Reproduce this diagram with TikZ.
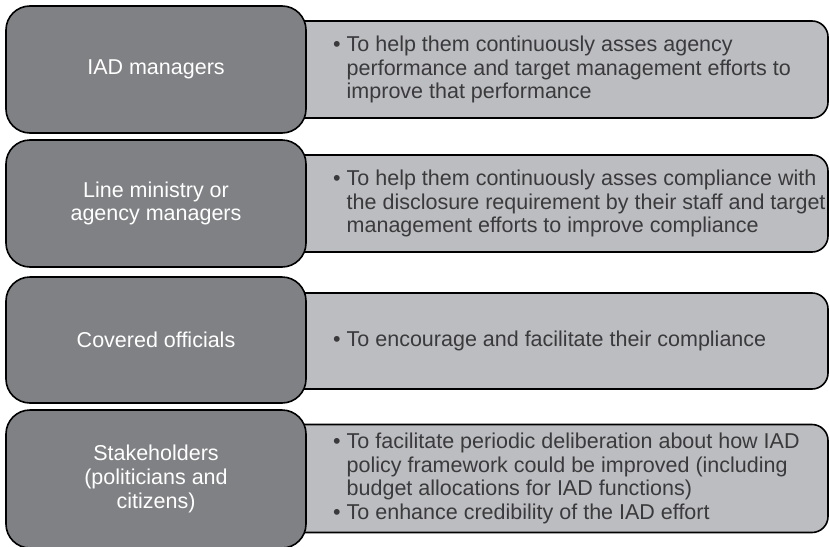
\documentclass[tikz,border=0pt]{standalone}
\usepackage{fontspec}
\setmainfont{Liberation Sans}
\definecolor{whofill}{HTML}{808184}
\definecolor{whyfill}{HTML}{BCBDC0}
\definecolor{whyink}{HTML}{3A3A3C}
\newcommand\bulletgap{\phantom{\textbullet\ }}
\tikzset{
	whobox/.style={draw=black, line width=1.6pt, fill=whofill, rounded corners=24pt, minimum width=300pt, text=white, align=center, font=\fontsize{21.5}{23.7}\selectfont},
	whybox/.style={draw=black, line width=1.6pt, fill=whyfill, rounded corners=16pt, minimum width=548pt},
	whytext/.style={anchor=west, align=left, inner sep=0pt, text=whyink, font=\fontsize{21.5}{23.7}\selectfont}
}

\begin{document}
\begin{tikzpicture}[x=1pt, y=-1pt]
		%%%%% START %%%%%
		
		\useasboundingbox (0, 0) rectangle (829, 546);
		
		\node[whybox, minimum height=97pt] (iadwhy) at (554, 69.5) {};
		\node[whybox, minimum height=97pt] (linewhy) at (554, 203.5) {};
		\node[whybox, minimum height=96pt] (coveredwhy) at (554, 341) {};
		\node[whybox, minimum height=108pt] (stakewhy) at (554, 478.5) {};
		
		\node[whobox, minimum height=127pt] (iad) at (156, 69.5) {IAD managers};
		\node[whobox, minimum height=127pt] (line) at (156, 203.5) {Line ministry or\\agency managers};
		\node[whobox, minimum height=126pt] (covered) at (156, 340) {Covered officials};
		\node[whobox, minimum height=138pt] (stake) at (156, 479) {Stakeholders\\(politicians and\\citizens)};
		
		\node[whytext] (iadtext) at (333, 69.5) {\textbullet\ To help them continuously asses agency\\\bulletgap performance and target management efforts to\\\bulletgap improve that performance};
		\node[whytext] (linetext) at (333, 203.5) {\textbullet\ To help them continuously asses compliance with\\\bulletgap the disclosure requirement by their staff and target\\\bulletgap management efforts to improve compliance};
		\node[whytext] (coveredtext) at (333, 341) {\textbullet\ To encourage and facilitate their compliance};
		\node[whytext] (staketext) at (333, 478.5) {\textbullet\ To facilitate periodic deliberation about how IAD\\\bulletgap policy framework could be improved (including\\\bulletgap budget allocations for IAD functions)\\\textbullet\ To enhance credibility of the IAD effort};
		
		%%%%% END %%%%%
\end{tikzpicture}
\end{document}
